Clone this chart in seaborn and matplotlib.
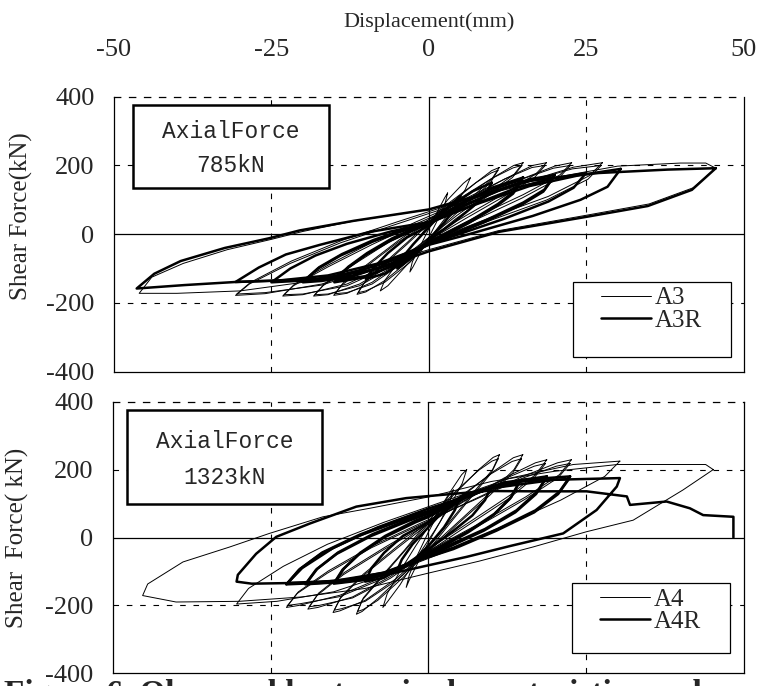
import numpy as np
import pandas as pd
import matplotlib
matplotlib.use("Agg")
import matplotlib.pyplot as plt
import seaborn as sns
from matplotlib.lines import Line2D
from matplotlib.patches import Rectangle

# ---------------- data (displacement mm, shear force kN) ----------------
x_ticks = [-50, -25, 0, 25, 50]
y_ticks = [-400, -200, 0, 200, 400]

# Specimen A3 (thin) - one closed cycle per list
A3_loops = [
    [(3,120),(2.6,90),(1.5,45),(0,-10),(-1.5,-60),(-2.5,-95),(-3,-110),
     (-2.6,-80),(-1.5,-40),(0,15),(1.5,70),(2.5,105),(3,120)],
    [(6.6,164),(5.8,130),(4,80),(1.5,20),(-1,-40),(-4,-100),(-6.5,-150),(-7.7,-165),
     (-7,-135),(-5,-85),(-2,-20),(0.5,40),(3,100),(5.5,148),(6.6,164)],
    [(11.2,194),(10,160),(7,110),(3,45),(0,-15),(-3,-75),(-7,-135),(-10,-168),(-11.4,-175),
     (-10.4,-145),(-7.5,-95),(-3.5,-30),(0,30),(3.5,90),(7.5,150),(10,185),(11.2,194)],
    [(11,186),(9.8,150),(6.8,100),(2.8,35),(0,-22),(-3,-82),(-7,-140),(-10,-165),(-11.2,-170),
     (-10.2,-140),(-7.3,-88),(-3.3,-22),(0,36),(3.5,95),(7.5,150),(9.9,178),(11,186)],
    [(15,208),(13.6,175),(9.5,120),(4.5,55),(0,-10),(-4,-75),(-9,-140),(-13,-172),(-15.1,-178),
     (-13.8,-148),(-10,-95),(-5,-25),(0,35),(5,100),(10,162),(13.5,200),(15,208)],
    [(14.8,200),(13.3,165),(9.3,110),(4.3,45),(0,-18),(-4,-82),(-9,-145),(-13,-170),(-14.9,-173),
     (-13.6,-142),(-9.8,-88),(-4.8,-18),(0,42),(5,105),(10,162),(13.4,193),(14.8,200)],
    [(18.7,208),(17,175),(12,118),(6,55),(0,-10),(-5,-80),(-11,-145),(-16,-176),(-18.3,-180),
     (-16.8,-150),(-12.5,-95),(-6.5,-25),(0,35),(6,100),(12,160),(16.5,200),(18.7,208)],
    [(18.5,200),(16.8,165),(11.8,108),(5.8,45),(0,-18),(-5,-88),(-11,-150),(-16,-174),(-18.1,-176),
     (-16.6,-145),(-12.3,-88),(-6.3,-18),(0,42),(6,105),(12,160),(16.4,194),(18.5,200)],
    [(22.7,208),(20.8,172),(15,115),(8,55),(1,-10),(-6,-85),(-13,-145),(-20,-176),(-23.2,-180),
     (-21.5,-150),(-16,-95),(-9,-30),(-2,30),(6,95),(14,155),(20,198),(22.7,208)],
    [(22.5,200),(20.6,162),(14.8,105),(7.8,45),(1,-18),(-6,-92),(-13,-150),(-20,-174),(-23,-176),
     (-21.3,-145),(-15.8,-88),(-8.8,-22),(-2,36),(6,100),(14,155),(19.8,192),(22.5,200)],
    [(27.6,208),(25.5,170),(19,110),(10,50),(1,-15),(-8,-90),(-17,-145),(-26,-173),(-30.7,-178),
     (-28.5,-145),(-22,-85),(-14,-25),(-5,30),(5,90),(15,150),(23,195),(27.6,208)],
    [(27.4,200),(25.3,160),(18.8,100),(9.8,40),(1,-22),(-8,-96),(-17,-148),(-26,-170),(-30.5,-174),
     (-28.3,-140),(-21.8,-78),(-13.8,-18),(-5,36),(5,95),(15,150),(22.8,190),(27.4,200)],
    [(45.6,192),(42,135),(35,88),(25,55),(11,10),(0,-45),(-10,-100),(-20,-140),(-30,-165),(-40,-172),(-46,-172),
     (-44,-125),(-39,-85),(-32,-45),(-25,-15),(-20,8),(-12,38),(0,72),(10,120),(20,165),(30,198),(40,207),(44,207),(45.6,192)],
]

# Specimen A3R (thick)
A3R_loops = [
    [(5,110),(4.3,80),(2.5,35),(0,-15),(-2.5,-65),(-5,-100),
     (-4.3,-70),(-2.5,-30),(0,20),(2.5,70),(5,110)],
    [(10,150),(9,115),(7,80),(4,35),(1,-5),(0,-18),(-4,-80),(-7,-115),(-10,-130),
     (-8.6,-95),(-6.5,-55),(-3.5,-10),(0,25),(3,75),(7,125),(10,150)],
    [(15,165),(13.6,125),(11,88),(6.5,38),(2,-5),(0,-22),(-5,-85),(-10,-125),(-15,-140),
     (-13,-100),(-10,-60),(-6,-18),(-2,15),(0,28),(5,85),(10,135),(15,165)],
    [(14.8,158),(13.4,118),(10.8,82),(6.3,32),(2,-10),(0,-27),(-5,-88),(-10,-122),(-14.8,-134),
     (-12.8,-95),(-9.8,-55),(-5.8,-12),(-2,20),(0,33),(5,88),(10,132),(14.8,158)],
    [(20,172),(18.4,130),(15,92),(9,40),(3,-5),(0,-25),(-6,-85),(-12,-122),(-17,-136),(-20,-140),
     (-17.6,-100),(-14,-62),(-9,-22),(-4,10),(0,30),(6,85),(12,135),(16,160),(20,172)],
    [(19.8,165),(18.2,124),(14.8,86),(8.8,35),(3,-10),(0,-30),(-6,-88),(-12,-120),(-17,-132),(-19.8,-135),
     (-17.4,-96),(-13.8,-58),(-8.8,-17),(-4,14),(0,35),(6,88),(12,133),(16,155),(19.8,165)],
    [(25,178),(23,135),(19,95),(12,45),(4,-5),(0,-28),(-7,-85),(-14,-120),(-20,-135),(-25,-140),
     (-22,-100),(-18,-62),(-13,-28),(-6,8),(0,32),(7,85),(14,135),(20,163),(25,178)],
    [(30.5,190),(28.4,138),(24.1,100),(16.5,53),(5.8,-3),(0,-31),(-8,-85),(-16,-120),(-24,-135),(-30.7,-139),
     (-27,-97),(-22.7,-59),(-17.3,-31),(-9.3,7),(0,35),(8,90),(16,140),(24,172),(30.5,190)],
    [(45.6,192),(41.8,129),(34.8,82),(25.2,51),(11.2,7),(0,-50),(-8,-100),(-17,-130),(-30.7,-139),(-38.8,-148),(-46.4,-158),
     (-43.6,-115),(-39.4,-78),(-32.4,-40),(-25.4,-12),(-20.5,11),(-11.9,39),(0,72),(16.5,157),(27,178),(38,188),(45.6,192)],
]

# Specimen A4 (thin)
A4_loops = [
    [(4,140),(3.4,105),(2,50),(0,-15),(-1.8,-80),(-3,-125),(-3.5,-147),
     (-3,-110),(-1.8,-55),(0,15),(2,85),(3.3,125),(4,140)],
    [(6.1,200),(5.4,160),(3.5,95),(1,20),(-2,-65),(-4.5,-140),(-6.5,-190),(-7.2,-206),
     (-6.5,-165),(-4.5,-100),(-2,-25),(1,60),(3.5,135),(5.3,185),(6.1,200)],
    [(11.3,244),(10.2,200),(7.5,140),(4,60),(0,-30),(-4,-110),(-8,-180),(-10.5,-218),(-11.4,-226),
     (-10.5,-185),(-7.5,-120),(-4,-45),(0,40),(4,125),(8,200),(10.3,236),(11.3,244)],
    [(11.1,232),(10,190),(7.3,130),(3.8,50),(0,-38),(-4,-118),(-8,-185),(-10.3,-212),(-11.2,-218),
     (-10.3,-178),(-7.3,-112),(-3.8,-38),(0,48),(4,130),(8,198),(10.1,225),(11.1,232)],
    [(15,244),(13.6,200),(10,135),(5,50),(0,-35),(-5,-120),(-10,-185),(-14,-216),(-15.1,-221),
     (-14,-180),(-10.5,-115),(-5.5,-40),(0,40),(5,115),(10,190),(13.5,235),(15,244)],
    [(14.8,232),(13.4,190),(9.8,125),(4.8,42),(0,-42),(-5,-126),(-10,-188),(-13.8,-210),(-14.9,-214),
     (-13.8,-174),(-10.3,-108),(-5.3,-32),(0,46),(5,120),(10,188),(13.3,224),(14.8,232)],
    [(18.8,229),(17,185),(13,125),(6.5,45),(0,-35),(-6,-115),(-12,-175),(-17.5,-206),(-19.1,-211),
     (-17.6,-170),(-13.5,-110),(-7,-35),(0,40),(6,110),(12,175),(17,220),(18.8,229)],
    [(18.6,218),(16.8,176),(12.8,115),(6.3,36),(0,-42),(-6,-120),(-12,-178),(-17.3,-200),(-18.9,-204),
     (-17.4,-164),(-13.3,-103),(-6.8,-28),(0,46),(6,112),(12,172),(16.8,210),(18.6,218)],
    [(22.7,229),(20.8,185),(15.5,120),(8,40),(0,-40),(-7,-115),(-14,-170),(-20.5,-200),(-22.5,-206),
     (-20.8,-165),(-16,-105),(-9,-30),(-1,40),(7,110),(15,180),(20.5,220),(22.7,229)],
    [(22.5,218),(20.6,176),(15.3,112),(7.8,32),(0,-46),(-7,-120),(-14,-174),(-20.3,-195),(-22.3,-200),
     (-20.6,-160),(-15.8,-98),(-8.8,-24),(-1,44),(7,108),(15,175),(20.3,210),(22.5,218)],
    [(30.4,225),(28,180),(21,110),(12,35),(3,-40),(-6,-105),(-15,-160),(-24,-188),(-30.4,-196),
     (-28.5,-150),(-23,-85),(-16,-20),(-7,45),(3,110),(13,175),(23,215),(30.4,225)],
    [(45.2,200),(40.4,140),(32.5,51),(25.1,17),(16.6,-28),(8,-70),(0,-105),(-10,-150),(-20,-175),(-30,-188),(-40,-190),(-45.3,-171),
     (-44.5,-137),(-38.9,-72),(-31.5,-28),(-25.2,12),(-16.7,61),(-9.3,86),(0.2,120),(10,165),(20,195),(30,215),(44,215),(45.2,200)],
]

# Specimen A4R (thick)
A4R_loops = [
    [(5,115),(4.2,80),(2.5,30),(0,-25),(-2.5,-70),(-5,-100),
     (-4.2,-65),(-2.5,-20),(0,30),(2.5,80),(5,115)],
    [(10,150),(9,110),(7,65),(4,20),(0,-35),(-4,-85),(-7,-118),(-10,-130),
     (-9,-90),(-7,-45),(-4,5),(0,45),(4,95),(7,130),(10,150)],
    [(14.5,165),(13.2,120),(10.5,70),(6.5,20),(2,-25),(0,-45),(-5,-95),(-10,-125),(-15,-136),
     (-13.6,-95),(-11,-50),(-7,0),(-2,45),(0,60),(5,110),(10,148),(14.5,165)],
    [(14.3,158),(13,115),(10.3,65),(6.3,15),(2,-30),(0,-50),(-5,-98),(-10,-124),(-14.8,-132),
     (-13.4,-92),(-10.8,-45),(-6.8,5),(-2,50),(0,64),(5,112),(10,146),(14.3,158)],
    [(18.8,180),(17.3,135),(14,80),(9,25),(3,-25),(0,-50),(-6,-100),(-13,-130),(-19.5,-138),
     (-17.8,-95),(-14.5,-48),(-9,5),(-3,50),(0,70),(6,125),(12,162),(18.8,180)],
    [(18.6,172),(17.1,128),(13.8,74),(8.8,20),(3,-30),(0,-54),(-6,-102),(-13,-128),(-19.3,-134),
     (-17.6,-92),(-14.3,-44),(-8.8,10),(-3,54),(0,73),(6,126),(12,160),(18.6,172)],
    [(22.5,180),(20.8,135),(17,80),(11,25),(4,-30),(0,-55),(-7,-103),(-15,-132),(-22.5,-138),
     (-20.5,-95),(-17,-48),(-11,5),(-4,52),(0,75),(7,130),(15,170),(22.5,180)],
    [(22.3,172),(20.6,128),(16.8,74),(10.8,20),(4,-34),(0,-58),(-7,-104),(-15,-128),(-22.3,-134),
     (-20.3,-92),(-16.8,-44),(-10.8,9),(-4,56),(0,78),(7,130),(15,166),(22.3,172)],
    [(-22.5,-138),(-20,-90),(-15,-30),(-8,30),(0,85),(10,145),(20,170),(30.4,175),
     (29.9,150),(26.7,81),(21.4,12),(13,-25),(6.1,-57),(0,-82),(-8,-115),(-18,-133),(-28,-136),(-30.4,-130),
     (-30.2,-110),(-27.3,-48),(-24.1,2),(-18.8,41),(-11.4,91),(-3.5,116),(1.8,125),(9.2,137),(16.6,136),
     (25.1,136),(31.5,121),(32,96),(37.8,106),(41.5,86),(43.6,66),(48.4,61),(48.4,0)],
]

def to_frame(loops):
    rows = []
    for k, loop in enumerate(loops):
        for i, (d, f) in enumerate(loop):
            rows.append({"loop": k, "order": i, "d": d, "F": f})
    return pd.DataFrame(rows)

# ---------------- style ----------------
sns.set_style("white")
plt.rcParams["font.family"] = ["Liberation Serif", "DejaVu Serif"]

fig = plt.figure(figsize=(7.62, 6.86), dpi=100)
W, H = 762.0, 686.0
ax1 = fig.add_axes([114 / W, 1 - 371.7 / H, 629.5 / W, 275 / H])
ax2 = fig.add_axes([113 / W, 1 - 673.3 / H, 630.5 / W, 271.6 / H])

dash = (0, (5, 7))
TICK_FS = 19

def style_axes(ax, ylabel, show_x, ylab_xy):
    ax.set_xlim(-50, 50)
    ax.set_ylim(-400, 400)
    ax.set_xticks(x_ticks)
    ax.set_yticks(y_ticks)
    ax.set_yticklabels([str(v) for v in y_ticks], fontsize=TICK_FS)
    ax.tick_params(axis="y", length=0, pad=14)
    if show_x:
        ax.xaxis.tick_top()
        ax.set_xticklabels([str(v) for v in x_ticks], fontsize=TICK_FS)
        ax.tick_params(axis="x", length=0, pad=26)
    else:
        ax.set_xticklabels([])
        ax.tick_params(axis="x", length=0)
    ax.set_ylabel(ylabel, fontsize=18)
    ax.yaxis.set_label_coords(*ylab_xy)
    for s in ax.spines.values():
        s.set_color("black")
        s.set_linewidth(0.9)
    ax.spines["top"].set_linestyle(dash)
    ax.axhline(0, color="black", lw=0.9, zorder=1)
    ax.axvline(0, color="black", lw=0.9, zorder=1)
    for v in (-25, 25):
        ax.axvline(v, color="black", lw=0.8, ls=dash, zorder=1)
    for v in (-200, 200):
        ax.axhline(v, color="black", lw=0.8, ls=dash, zorder=1)

def draw(ax, thin_loops, thick_loops, thin_name, thick_name, force_txt, box_px, leg_px, ylabel, show_x, ylab_xy):
    d1 = to_frame(thin_loops)
    d2 = to_frame(thick_loops)
    sns.lineplot(data=d1, x="d", y="F", units="loop", estimator=None, sort=False,
                 color="black", lw=0.7, ax=ax, zorder=3)
    sns.lineplot(data=d2, x="d", y="F", units="loop", estimator=None, sort=False,
                 color="black", lw=1.8, ax=ax, zorder=4)
    style_axes(ax, ylabel, show_x, ylab_xy)
    bb = ax.get_position()
    def px2ax(x, y):
        fx, fy = x / W, 1 - y / H
        return (fx - bb.x0) / bb.width, (fy - bb.y0) / bb.height
    # annotation box
    x0, y0 = px2ax(box_px[0], box_px[3])
    x1, y1 = px2ax(box_px[2], box_px[1])
    ax.add_patch(Rectangle((x0, y0), x1 - x0, y1 - y0, transform=ax.transAxes,
                           facecolor="white", edgecolor="black", lw=1.8, zorder=6))
    cx = (x0 + x1) / 2
    _, ty1 = px2ax(0, box_px[4])
    _, ty2 = px2ax(0, box_px[5])
    ax.text(cx, ty1, "AxialForce", transform=ax.transAxes, ha="center", va="center",
            family="Liberation Mono", fontsize=16.5, zorder=7)
    ax.text(cx, ty2, force_txt, transform=ax.transAxes, ha="center", va="center",
            family="Liberation Mono", fontsize=16.5, zorder=7)
    # legend box
    lx0, ly0 = px2ax(leg_px[0], leg_px[3])
    lx1, ly1 = px2ax(leg_px[2], leg_px[1])
    ax.add_patch(Rectangle((lx0, ly0), lx1 - lx0, ly1 - ly0, transform=ax.transAxes,
                           facecolor="white", edgecolor="black", lw=0.9, zorder=6))
    handles = [Line2D([], [], color="black", lw=0.7), Line2D([], [], color="black", lw=1.8)]
    lgx, lgy = px2ax(leg_px[0] + 28, leg_px[1] + 5)
    leg = ax.legend(handles, [thin_name, thick_name], loc="upper left",
                    bbox_to_anchor=(lgx, lgy), frameon=False, fontsize=18,
                    handlelength=2.0, handletextpad=0.15, labelspacing=0.0,
                    borderpad=0.0, borderaxespad=0.0)
    leg.set_zorder(8)

draw(ax1, A3_loops, A3R_loops, "A3", "A3R", "785kN",
     (133, 105, 329, 188, 131, 165), (573, 282, 731, 357),
     "Shear Force(kN)", True, (-0.128, 0.565))
draw(ax2, A4_loops, A4R_loops, "A4", "A4R", "1323kN",
     (127, 410, 322, 504, 442, 478), (572, 583, 730, 653),
     "Shear  Force( kN)", False, (-0.133, 0.5))

ax1.xaxis.set_label_position("top")
ax1.set_xlabel("Displacement(mm)", fontsize=16)
ax1.xaxis.set_label_coords(0.5, 1.255)
ax2.set_xlabel("")

fig.text(0.005, -0.025, "Figure 6. Observed hysteresis characteristics and comparison of test",
         fontsize=24, fontweight="bold", ha="left", va="baseline")

fig.savefig("out.png", dpi=100)
